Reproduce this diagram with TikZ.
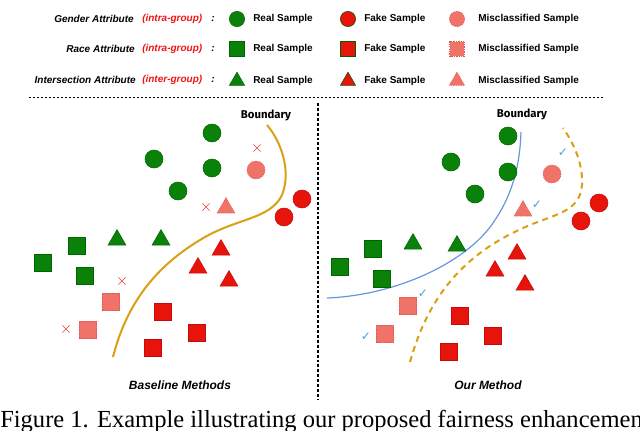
\documentclass[tikz,border=0pt]{standalone}
\usepackage{fontspec}
\setmainfont{Liberation Sans}
\newfontfamily\capfont{Liberation Serif}
\newfontfamily\symfont{DejaVu Sans}
\newfontfamily\bndfont{Fira Sans}
\usepackage{tikz}
\usetikzlibrary{shapes.geometric,shapes.misc}

\begin{document}
\begin{tikzpicture}[x=0.75pt,y=0.75pt,yscale=-1,xscale=1,
  circ/.style={circle,inner sep=0pt,minimum size=13.5pt,line width=0.4pt},
  sq/.style={rectangle,inner sep=0pt,minimum size=13pt,line width=0.4pt},
  tri/.style={regular polygon,regular polygon sides=3,inner sep=0pt,minimum size=15.6pt,line width=0.4pt},
  real/.style={draw={rgb, 255:red, 0; green, 100; blue, 0},fill={rgb, 255:red, 10; green, 130; blue, 10}},
  fake/.style={draw={rgb, 255:red, 200; green, 10; blue, 10},fill={rgb, 255:red, 230; green, 20; blue, 10}},
  mis/.style={draw={rgb, 255:red, 225; green, 85; blue, 80},dash pattern=on 1pt off 0.8pt,fill={rgb, 255:red, 240; green, 115; blue, 105}},
  errmark/.style={cross out,draw={rgb, 255:red, 235; green, 60; blue, 60},line width=0.5pt,inner sep=0pt,minimum size=4.8pt},
  okmark/.style={text={rgb, 255:red, 70; green, 160; blue, 230},font=\symfont\fontsize{9}{9}\selectfont,inner sep=0pt},
  legtxt/.style={font=\bfseries\fontsize{7.5}{9}\selectfont,inner sep=0pt},
  atttxt/.style={font=\bfseries\itshape\fontsize{7.5}{9}\selectfont,inner sep=0pt},
  grptxt/.style={font=\bfseries\itshape\fontsize{7.5}{9}\selectfont,text={rgb, 255:red, 240; green, 20; blue, 20},inner sep=0pt},
  bndtxt/.style={font=\bndfont\bfseries\fontsize{8.5}{10}\selectfont,inner sep=0pt},
  ttltxt/.style={font=\bfseries\itshape\fontsize{9}{11}\selectfont,inner sep=0pt}]
\useasboundingbox (0,0) rectangle (640,430);

%Legend: attribute labels
\node[atttxt,anchor=east] (lga) at (134,19) {Gender Attribute};
\node[grptxt,anchor=west] (lgg) at (142,19) {(intra-group)};
\node[atttxt] (lgc) at (213,19) {:};
\node[atttxt,anchor=east] (lra) at (135,49) {Race Attribute};
\node[grptxt,anchor=west] (lrg) at (142,49) {(intra-group)};
\node[atttxt] (lrc) at (213,49) {:};
\node[atttxt,anchor=east] (lia) at (136,80) {Intersection Attribute};
\node[grptxt,anchor=west] (lig) at (142,80) {(inter-group)};
\node[atttxt] (lic) at (213,80) {:};
%Legend: samples
\node[circ,real,scale=0.85] (lgr) at (237,19) {};
\node[legtxt,anchor=west] (lgrt) at (253,19) {Real Sample};
\node[circ,fake,draw={rgb, 255:red, 0; green, 90; blue, 0},scale=0.85] (lgf) at (348,19) {};
\node[legtxt,anchor=west] (lgft) at (364,19) {Fake Sample};
\node[circ,mis,scale=0.85] (lgm) at (457,19) {};
\node[legtxt,anchor=west] (lgmt) at (478,19) {Misclassified Sample};
\node[sq,real,scale=0.85] (lrr) at (237,49) {};
\node[legtxt,anchor=west] (lrrt) at (253,49) {Real Sample};
\node[sq,fake,draw={rgb, 255:red, 0; green, 90; blue, 0},scale=0.85] (lrf) at (348,49) {};
\node[legtxt,anchor=west] (lrft) at (364,49) {Fake Sample};
\node[sq,mis,scale=0.85] (lrm) at (457,49) {};
\node[legtxt,anchor=west] (lrmt) at (478,49) {Misclassified Sample};
\node[tri,real,scale=0.85] (lir) at (237,81) {};
\node[legtxt,anchor=west] (lirt) at (253,81) {Real Sample};
\node[tri,fake,draw={rgb, 255:red, 0; green, 90; blue, 0},scale=0.85] (lif) at (348,81) {};
\node[legtxt,anchor=west] (lift) at (364,81) {Fake Sample};
\node[tri,mis,scale=0.85] (lim) at (457,81) {};
\node[legtxt,anchor=west] (limt) at (478,81) {Misclassified Sample};

%Straight Lines: separators
\draw [line width=0.6,dash pattern=on 1.5pt off 1.5pt] (29,97) -- (605,97) ;
\draw [line width=0.8,dash pattern=on 2.2pt off 1.5pt] (318,103) -- (318,400) ;

%Curve: baseline boundary
\draw [color={rgb, 255:red, 218; green, 160; blue, 20 },line width=1.5] (113,357) .. controls (125,310) and (150,270) .. (200,240) .. controls (235,218) and (270,220) .. (282,195) .. controls (292,170) and (280,140) .. (267,125) ;
\node[bndtxt] (lbnd) at (266,115) {Boundary};

%Baseline samples
\node[circ,real] (bc1) at (212,133) {};
\node[circ,real] (bc2) at (154,159) {};
\node[circ,real] (bc3) at (212,168) {};
\node[circ,real] (bc4) at (178,191) {};
\node[circ,mis] (bc5) at (256,170) {};
\node[errmark] (bx1) at (257,148) {};
\node[circ,fake] (bc6) at (302,199) {};
\node[circ,fake] (bc7) at (284,217) {};
\node[tri,mis] (bt1) at (226,208) {};
\node[errmark] (bx2) at (206,207) {};
\node[tri,real] (bt2) at (117,240) {};
\node[tri,real] (bt3) at (161,240) {};
\node[sq,real] (bs1) at (77,246) {};
\node[sq,real] (bs2) at (43,263) {};
\node[sq,real] (bs3) at (85,276) {};
\node[tri,fake] (bt4) at (221,250) {};
\node[tri,fake] (bt5) at (198,268) {};
\node[tri,fake] (bt6) at (229,281) {};
\node[errmark] (bx3) at (122,281) {};
\node[sq,mis] (bs4) at (111,302) {};
\node[sq,mis] (bs5) at (88,330) {};
\node[errmark] (bx4) at (66,329) {};
\node[sq,fake] (bs6) at (163,312) {};
\node[sq,fake] (bs7) at (197,333) {};
\node[sq,fake] (bs8) at (153,348) {};
\node[ttltxt] (lttl) at (180,385) {Baseline Methods};

%Curves: our boundaries
\draw [color={rgb, 255:red, 100; green, 150; blue, 225 },line width=0.9] (327,298) .. controls (400,295) and (470,260) .. (495,220) .. controls (515,190) and (520,160) .. (521,132) ;
\draw [color={rgb, 255:red, 218; green, 160; blue, 20 },line width=1.5,dash pattern=on 4.5pt off 3.5pt] (410,362) .. controls (430,290) and (470,250) .. (530,225) .. controls (560,213) and (580,210) .. (582,185) .. controls (583,165) and (575,145) .. (563,128) ;
\node[bndtxt] (rbnd) at (522,114) {Boundary};

%Our samples
\node[circ,real] (oc1) at (508,136) {};
\node[circ,real] (oc2) at (451,162) {};
\node[circ,real] (oc3) at (508,172) {};
\node[circ,real] (oc4) at (475,194) {};
\node[circ,mis] (oc5) at (552,174) {};
\node[okmark] (ok1) at (563,153) {✓};
\node[circ,fake] (oc6) at (599,203) {};
\node[circ,fake] (oc7) at (581,221) {};
\node[tri,mis] (ot1) at (523,211) {};
\node[okmark] (ok2) at (537,205) {✓};
\node[tri,real] (ot2) at (413,244) {};
\node[tri,real] (ot3) at (457,246) {};
\node[sq,real] (os1) at (373,249) {};
\node[sq,real] (os2) at (340,267) {};
\node[sq,real] (os3) at (382,279) {};
\node[tri,fake] (ot4) at (517,254) {};
\node[tri,fake] (ot5) at (495,271) {};
\node[tri,fake] (ot6) at (525,285) {};
\node[sq,mis] (os4) at (408,306) {};
\node[sq,mis] (os5) at (385,334) {};
\node[okmark] (ok3) at (423,294) {✓};
\node[okmark] (ok4) at (366,337) {✓};
\node[sq,fake] (os6) at (460,316) {};
\node[sq,fake] (os7) at (493,336) {};
\node[sq,fake] (os8) at (449,352) {};
\node[ttltxt] (rttl) at (488,385) {Our Method};

%Caption
\node[font=\capfont\fontsize{18.4}{20}\selectfont,anchor=base west,inner sep=0pt] (cap) at (0,427) {Figure 1. Example illustrating our proposed fairness enhancemen};
\end{tikzpicture}
\end{document}
